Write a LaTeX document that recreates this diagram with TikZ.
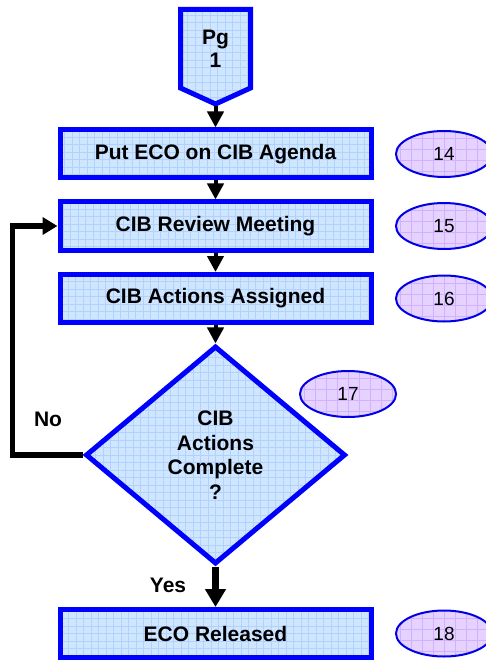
\documentclass[tikz,border=0pt]{standalone}
\usepackage{fontspec}
\setmainfont{Liberation Sans}
\usetikzlibrary{shapes.geometric,arrows.meta}
\definecolor{bordblue}{RGB}{0,0,255}
\definecolor{boxfill}{RGB}{208,230,255}
\definecolor{boxgrid}{RGB}{176,210,255}
\definecolor{ellfill}{RGB}{230,210,255}
\definecolor{ellgrid}{RGB}{208,176,255}
\definecolor{ellbord}{RGB}{0,0,230}
\tikzset{
  gridfill/.style={fill=boxfill,
    path picture={\draw[boxgrid, line width=0.7pt, step=7.5pt]
      (path picture bounding box.south west) grid (path picture bounding box.north east);}},
  ellgridfill/.style={fill=ellfill,
    path picture={\draw[ellgrid, line width=0.7pt, step=11pt]
      (path picture bounding box.south west) grid (path picture bounding box.north east);}},
  boxfont/.style={font=\fontsize{21}{24.5}\selectfont\bfseries},
  procbox/.style={draw=bordblue, line width=5pt, gridfill, minimum width=311pt,
    minimum height=48pt, inner sep=0pt, boxfont, align=center},
  decision/.style={diamond, draw=bordblue, line width=5pt, gridfill,
    minimum width=260pt, minimum height=218pt, inner sep=0pt, boxfont, align=center},
  numell/.style={ellipse, draw=ellbord, line width=2pt, ellgridfill,
    minimum width=96pt, minimum height=46pt, inner sep=0pt,
    font=\fontsize{19}{22}\selectfont},
  flowarrow/.style={line width=4pt, -{Triangle[width=16pt,length=16pt]}},
  yesarrow/.style={line width=6.5pt, -{Triangle[width=20pt,length=18pt]}},
  fbline/.style={line width=5.5pt, -{Triangle[width=17pt,length=15pt]}},
  lbl/.style={font=\fontsize{21}{24}\selectfont\bfseries},
}
\begin{document}
\begin{tikzpicture}[x=1pt,y=-1pt]
\useasboundingbox (0,0) rectangle (485,660);
% page connector
\path[draw=bordblue, line width=5pt, line join=miter, gridfill]
  (180.5,9.5) -- (250.5,9.5) -- (250.5,88) -- (215.5,104) -- (180.5,88) -- cycle;
\node[align=center, font=\fontsize{21}{23}\selectfont\bfseries] (pg) at (215.5,49) {Pg\\1};
\coordinate (pgtip) at (215.5,106.5);
% boxes
\node[procbox] (b1) at (215.5,154) {Put ECO on CIB Agenda};
\node[procbox] (b2) at (215.5,226) {CIB Review Meeting};
\node[procbox] (b3) at (215.5,298.5) {CIB Actions Assigned};
\node[decision] (d) at (215.5,455) {CIB\\Actions\\Complete\\?};
\node[procbox] (b4) at (215.5,633.5) {ECO Released};
% ellipses
\node[numell] (e14) at (444,154) {14};
\node[numell] (e15) at (444,226) {15};
\node[numell] (e16) at (444,298.5) {16};
\node[numell] (e17) at (348,394) {17};
\node[numell] (e18) at (444,633.5) {18};
% connectors
\draw[flowarrow] (pgtip) -- (b1.north);
\draw[flowarrow] (b1) -- (b2);
\draw[flowarrow] (b2) -- (b3);
\draw[flowarrow] (b3) -- (d);
\draw[yesarrow] (d) -- (b4);
\coordinate (fbk) at (12.5,455);
\draw[fbline] (d.west) -- (fbk) |- (b2.west);
% labels
\node[lbl] (no) at (48,419) {No};
\node[lbl] (yes) at (168,585) {Yes};
\end{tikzpicture}
\end{document}
